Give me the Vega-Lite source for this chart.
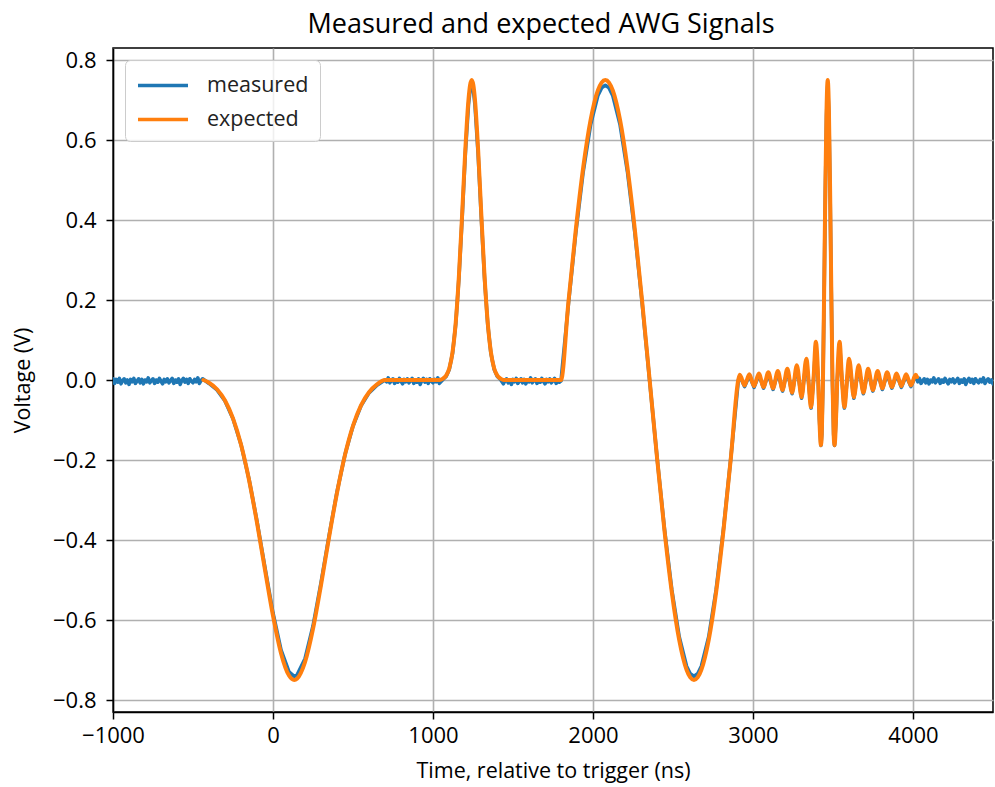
{
  "$schema": "https://vega.github.io/schema/vega-lite/v6.json",
  "width": 880,
  "height": 664,
  "autosize": {"type": "none"},
  "padding": {"left": 113, "top": 48, "right": 2, "bottom": 75},
  "background": "white",
  "title": {"text": "Measured and expected AWG Signals", "fontSize": 27, "font": "Open Sans", "fontWeight": "normal", "color": "black", "offset": 9, "anchor": "middle", "dx": -12},
  "config": {
    "font": "Open Sans",
    "view": {"stroke": "black", "strokeWidth": 1.5},
    "axis": {"labelFont": "Open Sans", "labelFontSize": 22, "labelColor": "black", "titleFont": "Open Sans", "titleFontSize": 21.5, "titleFontWeight": "normal", "titleColor": "black", "tickColor": "black", "tickSize": 7, "tickWidth": 1.5, "domainColor": "black", "domainWidth": 1.5, "gridColor": "#b0b0b0", "gridWidth": 1.6, "labelFlush": false}
  },
  "datasets": {
    "measured": [
      {"t": -1000, "v": 0.003}, {"t": -990, "v": -0.0085}, {"t": -980, "v": 0.0015}, {"t": -970, "v": -0.0055}, {"t": -960, "v": 0.004}, {"t": -950, "v": -0.0095}, {"t": -940, "v": -0.0015}, {"t": -930, "v": 0.003}, {"t": -920, "v": -0.007}, {"t": -910, "v": 0.0},
      {"t": -900, "v": -0.011}, {"t": -890, "v": 0.0015}, {"t": -880, "v": -0.0045}, {"t": -870, "v": 0.004}, {"t": -860, "v": -0.0085}, {"t": -850, "v": -0.003}, {"t": -840, "v": 0.003}, {"t": -830, "v": -0.007}, {"t": -820, "v": 0.0015}, {"t": -810, "v": -0.0095},
      {"t": -800, "v": 0.0}, {"t": -790, "v": -0.0045}, {"t": -780, "v": 0.0055}, {"t": -770, "v": -0.007}, {"t": -760, "v": -0.0015}, {"t": -750, "v": 0.003}, {"t": -740, "v": -0.0085}, {"t": -730, "v": 0.0}, {"t": -720, "v": -0.0055}, {"t": -710, "v": 0.004},
      {"t": -700, "v": -0.003}, {"t": -690, "v": -0.0095}, {"t": -680, "v": 0.0015}, {"t": -670, "v": -0.0045}, {"t": -660, "v": 0.003}, {"t": -650, "v": -0.007}, {"t": -640, "v": -0.0015}, {"t": -630, "v": 0.004}, {"t": -620, "v": -0.0085}, {"t": -610, "v": 0.0},
      {"t": -600, "v": -0.0055}, {"t": -590, "v": 0.003}, {"t": -580, "v": -0.011}, {"t": -570, "v": -0.0015}, {"t": -560, "v": 0.004}, {"t": -550, "v": -0.0055}, {"t": -540, "v": 0.0015}, {"t": -530, "v": -0.0085}, {"t": -520, "v": 0.003}, {"t": -510, "v": -0.003},
      {"t": -500, "v": -0.007}, {"t": -490, "v": 0.0015}, {"t": -480, "v": -0.0045}, {"t": -470, "v": 0.0055}, {"t": -460, "v": -0.0085}, {"t": -450, "v": -0.0015}, {"t": -440, "v": 0.003},
      {"t": -400, "v": -0.0086}, {"t": -350, "v": -0.0248}, {"t": -300, "v": -0.0525}, {"t": -250, "v": -0.0967}, {"t": -200, "v": -0.1611}, {"t": -150, "v": -0.2477}, {"t": -100, "v": -0.3533}, {"t": -50, "v": -0.4697}, {"t": 0, "v": -0.5825}, {"t": 50, "v": -0.6747}, {"t": 100, "v": -0.7298}, {"t": 133, "v": -0.7408}, {"t": 150, "v": -0.7378}, {"t": 200, "v": -0.6969}, {"t": 250, "v": -0.6151}, {"t": 300, "v": -0.5069}, {"t": 350, "v": -0.39}, {"t": 400, "v": -0.2797}, {"t": 450, "v": -0.1864}, {"t": 500, "v": -0.1149}, {"t": 550, "v": -0.0646}, {"t": 600, "v": -0.0321}, {"t": 650, "v": -0.0128},
      {"t": 700, "v": 0.0}, {"t": 710, "v": -0.0045}, {"t": 720, "v": 0.0055}, {"t": 730, "v": -0.007}, {"t": 740, "v": -0.0015}, {"t": 750, "v": 0.003}, {"t": 760, "v": -0.0085}, {"t": 770, "v": 0.0}, {"t": 780, "v": -0.0055}, {"t": 790, "v": 0.004},
      {"t": 800, "v": -0.003}, {"t": 810, "v": -0.0095}, {"t": 820, "v": 0.0015}, {"t": 830, "v": -0.0045}, {"t": 840, "v": 0.003}, {"t": 850, "v": -0.007}, {"t": 860, "v": -0.0015}, {"t": 870, "v": 0.004}, {"t": 880, "v": -0.0085}, {"t": 890, "v": 0.0},
      {"t": 900, "v": -0.0055}, {"t": 910, "v": 0.003}, {"t": 920, "v": -0.011}, {"t": 930, "v": -0.0015}, {"t": 940, "v": 0.004}, {"t": 950, "v": -0.0055}, {"t": 960, "v": 0.0015}, {"t": 970, "v": -0.0085}, {"t": 980, "v": 0.003}, {"t": 990, "v": -0.003},
      {"t": 1000, "v": -0.007}, {"t": 1010, "v": 0.0015}, {"t": 1020, "v": -0.0045}, {"t": 1030, "v": 0.0055}, {"t": 1040, "v": -0.0085},
      {"t": 1062, "v": 0.0014}, {"t": 1082, "v": 0.0087}, {"t": 1102, "v": 0.027}, {"t": 1122, "v": 0.0664}, {"t": 1142, "v": 0.1394}, {"t": 1162, "v": 0.2545}, {"t": 1182, "v": 0.4055}, {"t": 1202, "v": 0.5651}, {"t": 1222, "v": 0.6895}, {"t": 1232, "v": 0.7246}, {"t": 1242, "v": 0.7368}, {"t": 1252, "v": 0.7246}, {"t": 1262, "v": 0.6895}, {"t": 1282, "v": 0.5651}, {"t": 1302, "v": 0.4055}, {"t": 1322, "v": 0.2545}, {"t": 1342, "v": 0.1394}, {"t": 1362, "v": 0.0664}, {"t": 1382, "v": 0.027}, {"t": 1402, "v": 0.0087}, {"t": 1422, "v": 0.0014},
      {"t": 1440, "v": -0.0095}, {"t": 1450, "v": -0.0015}, {"t": 1460, "v": 0.003}, {"t": 1470, "v": -0.007}, {"t": 1480, "v": 0.0}, {"t": 1490, "v": -0.011}, {"t": 1500, "v": 0.0015}, {"t": 1510, "v": -0.0045}, {"t": 1520, "v": 0.004}, {"t": 1530, "v": -0.0085},
      {"t": 1540, "v": -0.003}, {"t": 1550, "v": 0.003}, {"t": 1560, "v": -0.007}, {"t": 1570, "v": 0.0015}, {"t": 1580, "v": -0.0095}, {"t": 1590, "v": 0.0}, {"t": 1600, "v": -0.0045}, {"t": 1610, "v": 0.0055}, {"t": 1620, "v": -0.007}, {"t": 1630, "v": -0.0015},
      {"t": 1640, "v": 0.003}, {"t": 1650, "v": -0.0085}, {"t": 1660, "v": 0.0}, {"t": 1670, "v": -0.0055}, {"t": 1680, "v": 0.004}, {"t": 1690, "v": -0.003}, {"t": 1700, "v": -0.0095}, {"t": 1710, "v": 0.0015}, {"t": 1720, "v": -0.0045}, {"t": 1730, "v": 0.003},
      {"t": 1740, "v": -0.007}, {"t": 1750, "v": -0.0015}, {"t": 1760, "v": 0.004}, {"t": 1770, "v": -0.0085}, {"t": 1780, "v": 0.0}, {"t": 1790, "v": -0.0055}, {"t": 1800, "v": -0.002},
      {"t": 1846.2, "v": 0.1892}, {"t": 1892.3, "v": 0.3674}, {"t": 1938.5, "v": 0.5203}, {"t": 1984.7, "v": 0.6378}, {"t": 2030.8, "v": 0.7115}, {"t": 2053.9, "v": 0.7304}, {"t": 2077, "v": 0.7368}, {"t": 2100.1, "v": 0.7304}, {"t": 2123.2, "v": 0.7115}, {"t": 2169.3, "v": 0.6378}, {"t": 2215.5, "v": 0.5203}, {"t": 2261.7, "v": 0.3674}, {"t": 2307.8, "v": 0.1892}, {"t": 2354, "v": -0.002},
      {"t": 2400.2, "v": -0.1932}, {"t": 2446.3, "v": -0.3714}, {"t": 2492.5, "v": -0.5243}, {"t": 2538.7, "v": -0.6418}, {"t": 2584.8, "v": -0.7155}, {"t": 2607.9, "v": -0.7344}, {"t": 2631, "v": -0.7408}, {"t": 2654.1, "v": -0.7344}, {"t": 2677.2, "v": -0.7155}, {"t": 2723.3, "v": -0.6418}, {"t": 2769.5, "v": -0.5243}, {"t": 2815.7, "v": -0.3714}, {"t": 2861.8, "v": -0.1932}, {"t": 2908, "v": -0.002},
      {"t": 2917.6, "v": 0.0097}, {"t": 2947.3, "v": -0.0164}, {"t": 2977.0, "v": 0.0113}, {"t": 3006.7, "v": -0.0182}, {"t": 3036.4, "v": 0.0133}, {"t": 3066.1, "v": -0.0204}, {"t": 3095.8, "v": 0.0158}, {"t": 3125.5, "v": -0.0235}, {"t": 3155.2, "v": 0.0194}, {"t": 3184.9, "v": -0.0277}, {"t": 3214.6, "v": 0.0247}, {"t": 3244.3, "v": -0.0343}, {"t": 3274.0, "v": 0.0331}, {"t": 3303.7, "v": -0.0457}, {"t": 3333.4, "v": 0.0492}, {"t": 3363.1, "v": -0.0702}, {"t": 3377.9, "v": -0.003}, {"t": 3392.8, "v": 0.0911}, {"t": 3407.6, "v": -0.003}, {"t": 3415.0, "v": -0.098}, {"t": 3424.5, "v": -0.1636}, {"t": 3429.9, "v": -0.136}, {"t": 3437.3, "v": -0.003}, {"t": 3444.7, "v": 0.2186}, {"t": 3452.2, "v": 0.4673}, {"t": 3459.6, "v": 0.6619}, {"t": 3467, "v": 0.7358},
      {"t": 3474.4, "v": 0.6619}, {"t": 3481.8, "v": 0.4673}, {"t": 3489.3, "v": 0.2186}, {"t": 3496.7, "v": -0.003}, {"t": 3504.1, "v": -0.136}, {"t": 3509.5, "v": -0.1636}, {"t": 3519.0, "v": -0.098}, {"t": 3526.4, "v": -0.003}, {"t": 3541.3, "v": 0.0911}, {"t": 3556.1, "v": -0.003}, {"t": 3570.9, "v": -0.0702}, {"t": 3600.7, "v": 0.0492}, {"t": 3630.4, "v": -0.0457}, {"t": 3660.1, "v": 0.0331}, {"t": 3689.8, "v": -0.0343}, {"t": 3719.5, "v": 0.0247}, {"t": 3749.2, "v": -0.0277}, {"t": 3778.9, "v": 0.0194}, {"t": 3808.6, "v": -0.0235}, {"t": 3838.3, "v": 0.0158}, {"t": 3868.0, "v": -0.0204}, {"t": 3897.7, "v": 0.0133}, {"t": 3927.4, "v": -0.0182}, {"t": 3957.1, "v": 0.0113}, {"t": 3986.8, "v": -0.0164}, {"t": 4016.5, "v": 0.0097}, {"t": 4025.4, "v": 0.0044},
      {"t": 4030, "v": -0.0045}, {"t": 4040, "v": 0.004}, {"t": 4050, "v": -0.0085}, {"t": 4060, "v": -0.003}, {"t": 4070, "v": 0.003}, {"t": 4080, "v": -0.007}, {"t": 4090, "v": 0.0015}, {"t": 4100, "v": -0.0095}, {"t": 4110, "v": 0.0}, {"t": 4120, "v": -0.0045},
      {"t": 4130, "v": 0.0055}, {"t": 4140, "v": -0.007}, {"t": 4150, "v": -0.0015}, {"t": 4160, "v": 0.003}, {"t": 4170, "v": -0.0085}, {"t": 4180, "v": 0.0}, {"t": 4190, "v": -0.0055}, {"t": 4200, "v": 0.004}, {"t": 4210, "v": -0.003}, {"t": 4220, "v": -0.0095},
      {"t": 4230, "v": 0.0015}, {"t": 4240, "v": -0.0045}, {"t": 4250, "v": 0.003}, {"t": 4260, "v": -0.007}, {"t": 4270, "v": -0.0015}, {"t": 4280, "v": 0.004}, {"t": 4290, "v": -0.0085}, {"t": 4300, "v": 0.0}, {"t": 4310, "v": -0.0055}, {"t": 4320, "v": 0.003},
      {"t": 4330, "v": -0.011}, {"t": 4340, "v": -0.0015}, {"t": 4350, "v": 0.004}, {"t": 4360, "v": -0.0055}, {"t": 4370, "v": 0.0015}, {"t": 4380, "v": -0.0085}, {"t": 4390, "v": 0.003}, {"t": 4400, "v": -0.003}, {"t": 4410, "v": -0.007}, {"t": 4420, "v": 0.0015},
      {"t": 4430, "v": -0.0045}, {"t": 4440, "v": 0.0055}, {"t": 4450, "v": -0.0085}, {"t": 4460, "v": -0.0015}, {"t": 4470, "v": 0.003}, {"t": 4480, "v": -0.0055}, {"t": 4490, "v": 0.0}, {"t": 4500, "v": -0.0095}
    ],
    "expected": [
      {"t": -435, "v": 0.0}, {"t": -400, "v": -0.0067}, {"t": -350, "v": -0.0231}, {"t": -300, "v": -0.0513}, {"t": -250, "v": -0.0961}, {"t": -200, "v": -0.1615}, {"t": -150, "v": -0.2494}, {"t": -100, "v": -0.3567}, {"t": -50, "v": -0.4748}, {"t": 0, "v": -0.5893}, {"t": 50, "v": -0.6829}, {"t": 100, "v": -0.7389}, {"t": 133, "v": -0.75}, {"t": 150, "v": -0.747}, {"t": 200, "v": -0.7055}, {"t": 250, "v": -0.6224}, {"t": 300, "v": -0.5126}, {"t": 350, "v": -0.3939}, {"t": 400, "v": -0.2819}, {"t": 450, "v": -0.1872}, {"t": 500, "v": -0.1146}, {"t": 550, "v": -0.0636}, {"t": 600, "v": -0.0306}, {"t": 650, "v": -0.011}, {"t": 700, "v": 0.0},
      {"t": 1042, "v": 0.0}, {"t": 1062, "v": 0.0035}, {"t": 1082, "v": 0.0109}, {"t": 1102, "v": 0.0294}, {"t": 1122, "v": 0.0694}, {"t": 1142, "v": 0.1436}, {"t": 1162, "v": 0.2604}, {"t": 1182, "v": 0.4137}, {"t": 1202, "v": 0.5757}, {"t": 1222, "v": 0.702}, {"t": 1232, "v": 0.7377}, {"t": 1242, "v": 0.75}, {"t": 1252, "v": 0.7377}, {"t": 1262, "v": 0.702}, {"t": 1282, "v": 0.5757}, {"t": 1302, "v": 0.4137}, {"t": 1322, "v": 0.2604}, {"t": 1342, "v": 0.1436}, {"t": 1362, "v": 0.0694}, {"t": 1382, "v": 0.0294}, {"t": 1402, "v": 0.0109}, {"t": 1422, "v": 0.0035}, {"t": 1442, "v": 0.0},
      {"t": 1800, "v": 0.0}, {"t": 1846.2, "v": 0.1941}, {"t": 1892.3, "v": 0.375}, {"t": 1938.5, "v": 0.5303}, {"t": 1984.7, "v": 0.6495}, {"t": 2030.8, "v": 0.7244}, {"t": 2053.9, "v": 0.7436}, {"t": 2077, "v": 0.75}, {"t": 2100.1, "v": 0.7436}, {"t": 2123.2, "v": 0.7244}, {"t": 2169.3, "v": 0.6495}, {"t": 2215.5, "v": 0.5303}, {"t": 2261.7, "v": 0.375}, {"t": 2307.8, "v": 0.1941}, {"t": 2354, "v": 0.0},
      {"t": 2400.2, "v": -0.1941}, {"t": 2446.3, "v": -0.375}, {"t": 2492.5, "v": -0.5303}, {"t": 2538.7, "v": -0.6495}, {"t": 2584.8, "v": -0.7244}, {"t": 2607.9, "v": -0.7436}, {"t": 2631, "v": -0.75}, {"t": 2654.1, "v": -0.7436}, {"t": 2677.2, "v": -0.7244}, {"t": 2723.3, "v": -0.6495}, {"t": 2769.5, "v": -0.5303}, {"t": 2815.7, "v": -0.375}, {"t": 2861.8, "v": -0.1941}, {"t": 2908, "v": 0.0},
      {"t": 2917.6, "v": 0.0129}, {"t": 2947.3, "v": -0.0136}, {"t": 2977.0, "v": 0.0145}, {"t": 3006.7, "v": -0.0154}, {"t": 3036.4, "v": 0.0165}, {"t": 3066.1, "v": -0.0177}, {"t": 3095.8, "v": 0.0191}, {"t": 3125.5, "v": -0.0208}, {"t": 3155.2, "v": 0.0227}, {"t": 3184.9, "v": -0.0251}, {"t": 3214.6, "v": 0.0281}, {"t": 3244.3, "v": -0.0318}, {"t": 3274.0, "v": 0.0367}, {"t": 3303.7, "v": -0.0434}, {"t": 3333.4, "v": 0.053}, {"t": 3363.1, "v": -0.0682}, {"t": 3377.9, "v": 0.0}, {"t": 3392.8, "v": 0.0955}, {"t": 3407.6, "v": 0.0}, {"t": 3415.0, "v": -0.0965}, {"t": 3424.5, "v": -0.163}, {"t": 3429.9, "v": -0.135}, {"t": 3437.3, "v": 0.0}, {"t": 3444.7, "v": 0.225}, {"t": 3452.2, "v": 0.4775}, {"t": 3459.6, "v": 0.675}, {"t": 3467, "v": 0.75},
      {"t": 3474.4, "v": 0.675}, {"t": 3481.8, "v": 0.4775}, {"t": 3489.3, "v": 0.225}, {"t": 3496.7, "v": 0.0}, {"t": 3504.1, "v": -0.135}, {"t": 3509.5, "v": -0.163}, {"t": 3519.0, "v": -0.0965}, {"t": 3526.4, "v": 0.0}, {"t": 3541.3, "v": 0.0955}, {"t": 3556.1, "v": 0.0}, {"t": 3570.9, "v": -0.0682}, {"t": 3600.7, "v": 0.053}, {"t": 3630.4, "v": -0.0434}, {"t": 3660.1, "v": 0.0367}, {"t": 3689.8, "v": -0.0318}, {"t": 3719.5, "v": 0.0281}, {"t": 3749.2, "v": -0.0251}, {"t": 3778.9, "v": 0.0227}, {"t": 3808.6, "v": -0.0208}, {"t": 3838.3, "v": 0.0191}, {"t": 3868.0, "v": -0.0177}, {"t": 3897.7, "v": 0.0165}, {"t": 3927.4, "v": -0.0154}, {"t": 3957.1, "v": 0.0145}, {"t": 3986.8, "v": -0.0136}, {"t": 4016.5, "v": 0.0129}, {"t": 4025.4, "v": 0.0075}
    ]
  },
  "encoding": {
    "x": {"field": "t", "type": "quantitative", "scale": {"domain": [-1000, 4500], "nice": false, "zero": false},
      "axis": {"values": [-1000, 0, 1000, 2000, 3000, 4000], "format": "d", "title": "Time, relative to trigger (ns)", "labelPadding": 6, "titlePadding": 14}},
    "y": {"field": "v", "type": "quantitative", "scale": {"domain": [-0.83, 0.83], "nice": false, "zero": false},
      "axis": {"values": [-0.8, -0.6, -0.4, -0.2, 0, 0.2, 0.4, 0.6, 0.8], "format": ".1f", "title": "Voltage (V)", "labelPadding": 10, "titlePadding": 18}}
  },
  "layer": [
    {
      "data": {"name": "measured"},
      "mark": {"type": "line", "strokeWidth": 3.6, "strokeJoin": "round", "strokeCap": "round", "clip": true},
      "encoding": {
        "color": {"datum": "measured", "type": "nominal",
          "scale": {"domain": ["measured", "expected"], "range": ["#1f77b4", "#ff7f0e"]},
          "legend": {"title": null, "orient": "top-left", "offset": 12, "fillColor": "rgba(255,255,255,0.8)", "strokeColor": "#cccccc", "cornerRadius": 5, "padding": 11, "symbolType": "M-1,0H3", "symbolSize": 625, "symbolStrokeWidth": 3.5, "labelFontSize": 21.5, "labelFont": "Open Sans", "labelColor": "#222222", "labelOffset": 42, "rowPadding": 9}}
      }
    },
    {
      "data": {"name": "expected"},
      "mark": {"type": "line", "strokeWidth": 4, "strokeJoin": "round", "strokeCap": "round", "interpolate": "monotone", "clip": true},
      "encoding": {
        "color": {"datum": "expected", "type": "nominal"}
      }
    }
  ]
}
